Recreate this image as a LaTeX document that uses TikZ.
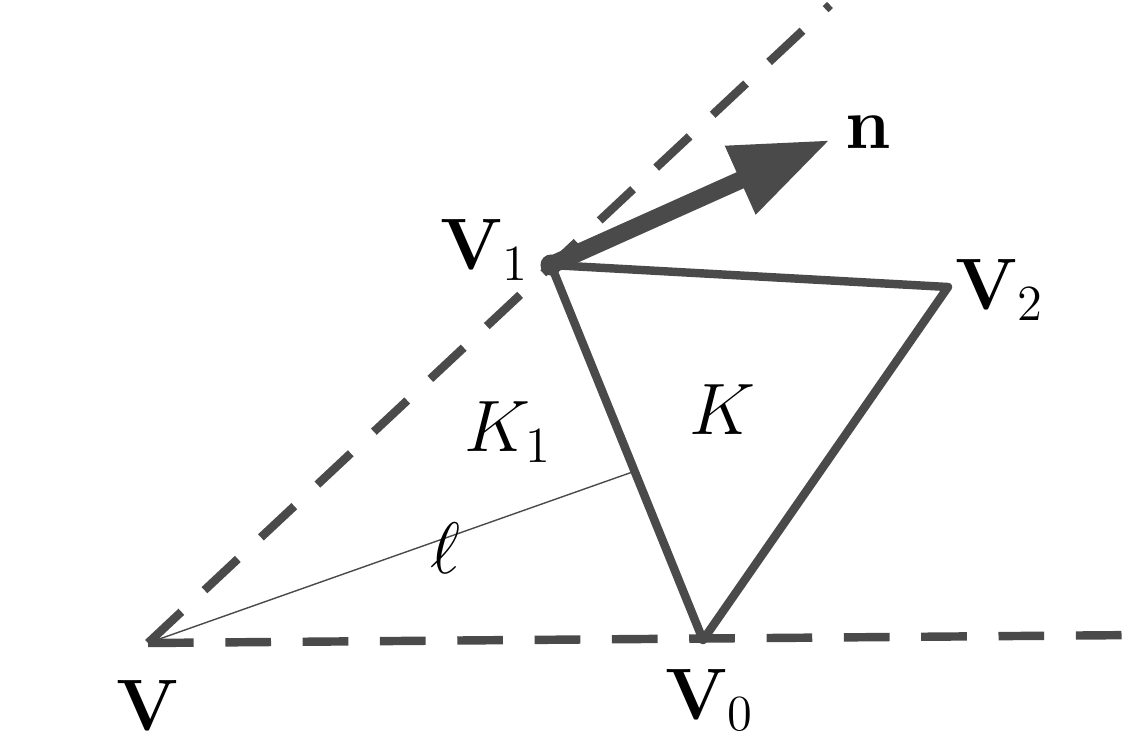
\documentclass[tikz,border=0pt]{standalone}
\usepackage{amsmath,amssymb}
\usetikzlibrary{calc,arrows.meta}
\begin{document}
\begin{tikzpicture}[font=\huge]
  \definecolor{edgegray}{HTML}{4A4A4A}
  \tikzset{edge/.style={edgegray,line width=2.4pt},
           cone/.style={edgegray,line width=2.4pt,dash pattern=on 13pt off 9pt}}
  \useasboundingbox (0,0) rectangle (11.45,7.55);
  % vertices
  \coordinate (V) at (1.48,1.12);
  \coordinate (V0) at (7.03,1.15);
  \coordinate (V1) at (5.51,4.90);
  \coordinate (V2) at (9.48,4.68);
  \coordinate (Top) at (8.30,7.50);
  \coordinate (Right) at (11.40,1.20);
  \coordinate (Tip) at (8.30,6.15);
  \coordinate (Foot) at ($(V1)!0.55!(V0)$);
  % cone
  \draw[cone] (V) -- (Top);
  \draw[cone] (V) -- (Right);
  % triangle
  \draw[edge,line join=round] (V0) -- (V1) -- (V2) -- cycle;
  \draw[edgegray,thin] (V) -- (Foot);
  \draw[edgegray,line width=5pt,-{Triangle[length=28pt,width=20pt]}] (V1) -- (Tip);
  \fill[edgegray] (V1) circle (3pt);
  % labels
  \node (lV) at (1.48,0.50) {$\mathbf{V}$};
  \node (lV0) at (7.10,0.55) {$\mathbf{V}_0$};
  \node (lV1) at (4.85,5.05) {$\mathbf{V}_1$};
  \node (lV2) at (10.00,4.65) {$\mathbf{V}_2$};
  \node (ln) at (8.68,6.23) {$\mathbf{n}$};
  \node (lK) at (7.22,3.45) {$K$};
  \node (lK1) at (5.08,3.23) {$K_1$};
  \node (ll) at (4.45,2.07) {$\ell$};
\end{tikzpicture}
\end{document}
